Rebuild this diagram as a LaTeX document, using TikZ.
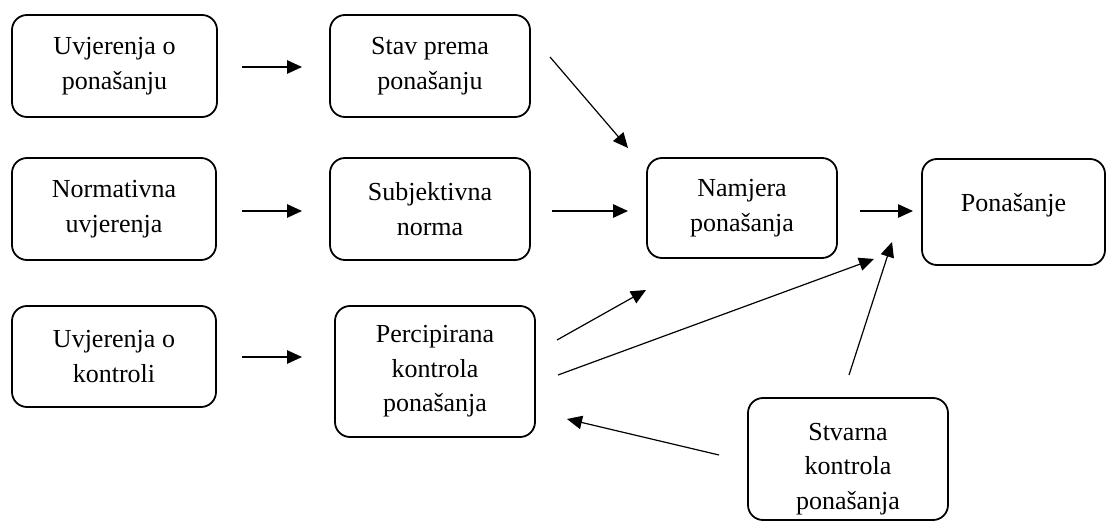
\documentclass[tikz,border=0pt]{standalone}
\usepackage{fontspec}
\setmainfont{Liberation Serif}
\usetikzlibrary{arrows.meta}
\begin{document}
\begin{tikzpicture}[x=1pt,y=-1pt,
  box/.style={draw, line width=1.8pt, rounded corners=15pt, align=center,
    font=\fontsize{26}{34.5}\selectfont, inner sep=0pt},
  lbl/.style={align=center, font=\fontsize{26}{34.5}\selectfont, inner sep=0pt},
  arr/.style={-{Triangle[length=15pt,width=13.5pt]}, line width=1.2pt}]
\useasboundingbox (0,0) rectangle (1117,529);
\node[box, minimum width=205pt, minimum height=102pt] (ub) at (114.5,66) {Uvjerenja o\\ponašanju};
\node[box, minimum width=200pt, minimum height=102pt] (sp) at (430,66) {Stav prema\\ponašanju};
\node[box, minimum width=204pt, minimum height=102pt] (nu) at (114,209) {Normativna\\uvjerenja};
\node[box, minimum width=200pt, minimum height=102pt] (sn) at (430,209) {Subjektivna\\norma};
\node[box, minimum width=190pt, minimum height=100pt] (np) at (742,208) {Namjera\\ponašanja};
\node[box, minimum width=183pt, minimum height=106pt] (po) at (1013.5,212) {};
\node[lbl] (poT) at (1013.5,205) {Ponašanje};
\node[box, minimum width=204pt, minimum height=101pt] (uk) at (114,356.5) {Uvjerenja o\\kontroli};
\node[box, minimum width=200pt, minimum height=131pt] (pk) at (435,371.5) {Percipirana\\kontrola\\ponašanja};
\node[box, minimum width=200pt, minimum height=122pt] (sk) at (848,459) {};
\node[lbl] (skT) at (848,469) {Stvarna\\kontrola\\ponašanja};

\coordinate (a1s) at (242,67);  \coordinate (a1e) at (302,67);
\coordinate (a2s) at (550,57);  \coordinate (a2e) at (628,148);
\coordinate (a3s) at (242,211); \coordinate (a3e) at (302,211);
\coordinate (a4s) at (552,211); \coordinate (a4e) at (628,211);
\coordinate (a5s) at (860,211); \coordinate (a5e) at (913,211);
\coordinate (a6s) at (242,357); \coordinate (a6e) at (302,357);
\coordinate (a7s) at (557,340); \coordinate (a7e) at (646,290);
\coordinate (a8s) at (558,375); \coordinate (a8e) at (874,259);
\coordinate (a9s) at (849,375); \coordinate (a9e) at (892,242);
\coordinate (a10s) at (719,455); \coordinate (a10e) at (567,419);

\draw[arr] (a1s) -- (a1e);
\draw[arr] (a2s) -- (a2e);
\draw[arr] (a3s) -- (a3e);
\draw[arr] (a4s) -- (a4e);
\draw[arr] (a5s) -- (a5e);
\draw[arr] (a6s) -- (a6e);
\draw[arr] (a7s) -- (a7e);
\draw[arr] (a8s) -- (a8e);
\draw[arr] (a9s) -- (a9e);
\draw[arr] (a10s) -- (a10e);
\end{tikzpicture}
\end{document}
